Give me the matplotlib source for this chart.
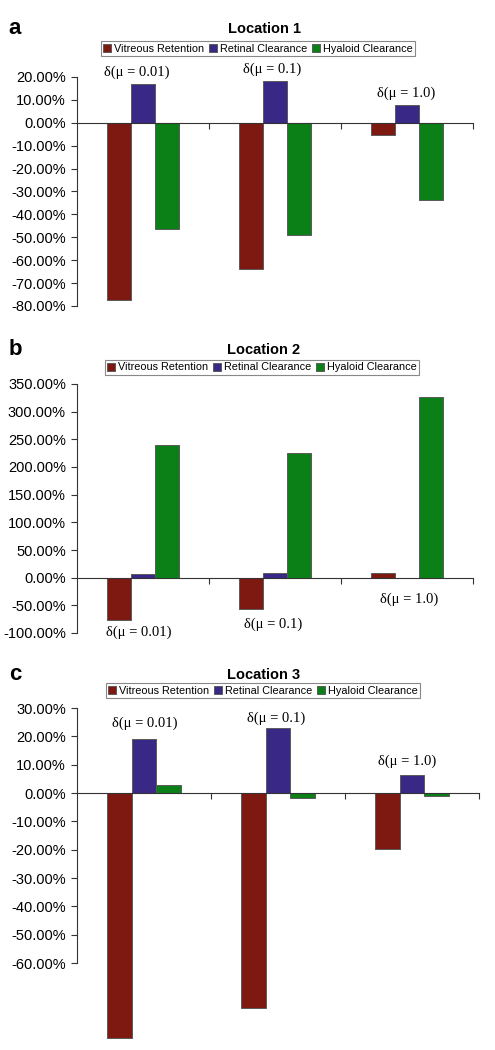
import matplotlib
matplotlib.use("Agg")
import matplotlib.pyplot as plt
import numpy as np
from matplotlib.ticker import FuncFormatter

series = ["Vitreous Retention", "Retinal Clearance", "Hyaloid Clearance"]
colors = ["#7E1912", "#3A2887", "#0B8016"]
groups = ["δ(μ = 0.01)", "δ(μ = 0.1)", "δ(μ = 1.0)"]

loc1 = {"Vitreous Retention": [-77.4, -63.9, -5.2],
        "Retinal Clearance": [17.0, 18.2, 7.7],
        "Hyaloid Clearance": [-46.4, -48.8, -33.5]}
loc2 = {"Vitreous Retention": [-77.4, -56.9, 8.4],
        "Retinal Clearance": [6.5, 9.0, 0.0],
        "Hyaloid Clearance": [239.7, 224.6, 326.6]}
loc3 = {"Vitreous Retention": [-86.6, -75.8, -19.7],
        "Retinal Clearance": [19.0, 23.0, 6.3],
        "Hyaloid Clearance": [2.8, -1.7, -1.2]}

W, H = 495, 1050
fig = plt.figure(figsize=(W / 100, H / 100), dpi=100)

SANS = "Liberation Sans"
SERIF = "Liberation Serif"

def px_axes(left, right, top, bottom):
    return fig.add_axes([left / W, 1 - bottom / H, (right - left) / W, (bottom - top) / H])

panels = [
    dict(data=loc1, box=(77, 473, 77, 306), ylim=(-80, 20), ticks=np.arange(-80, 21, 10),
         spine=(-80, 20), title="Location 1", letter="a", ty=29, leg=(258, 48.5),
         lab=[(137, 72), (272, 69), (406, 93)]),
    dict(data=loc2, box=(77, 473, 384, 633), ylim=(-100, 350), ticks=np.arange(-100, 351, 50),
         spine=(-100, 350), title="Location 2", letter="b", ty=350, leg=(262, 367.5),
         lab=[(139, 632), (273, 624), (409, 599)]),
    dict(data=loc3, box=(77, 479, 708, 1043), ylim=(-88.2, 30), ticks=np.arange(-60, 31, 10),
         spine=(-60, 30), title="Location 3", letter="c", ty=675, leg=(263, 690.5),
         lab=[(145, 723), (276, 718), (407, 761)]),
]

x = np.arange(len(groups))
bw = 0.183

for p in panels:
    ax = px_axes(*p["box"])
    for i, s in enumerate(series):
        ax.bar(x + (i - 1) * bw, p["data"][s], width=bw, color=colors[i],
               edgecolor="#5a5a5a", linewidth=0.7, label=s, zorder=2, clip_on=False)
    ax.set_xlim(-0.5, 2.5)
    ax.set_ylim(*p["ylim"])
    ax.set_yticks(p["ticks"])
    ax.yaxis.set_major_formatter(FuncFormatter(lambda v, pos: f"{v:.2f}%"))
    for t in ax.get_yticklabels():
        t.set_fontfamily(SANS)
        t.set_fontsize(10.5)
    ax.spines["top"].set_visible(False)
    ax.spines["right"].set_visible(False)
    ax.spines["left"].set_bounds(*p["spine"])
    ax.spines["bottom"].set_position(("data", 0))
    ax.spines["left"].set_color("#333333")
    ax.spines["bottom"].set_color("#333333")
    ax.spines["left"].set_zorder(3)
    ax.spines["bottom"].set_zorder(3)
    ax.set_xticks([0.5, 1.5, 2.5])
    ax.set_xticklabels([])
    ax.tick_params(axis="x", direction="out", length=4, color="#333333")
    ax.tick_params(axis="y", direction="out", length=4, color="#333333", pad=4)
    ax.patch.set_alpha(0)

    for g, (lx, ly) in zip(groups, p["lab"]):
        fig.text(lx / W, 1 - ly / H, g, ha="center", va="center",
                 fontfamily=SERIF, fontsize=10.5)

    fig.text(264 / W, 1 - p["ty"] / H, p["title"], ha="center", va="center",
             fontfamily=SANS, fontweight="bold", fontsize=10.5)
    fig.text(15 / W, 1 - (p["ty"] - 1) / H, p["letter"], ha="center", va="center",
             fontfamily=SANS, fontweight="bold", fontsize=16)

    lx, ly = p["leg"]
    leg = ax.legend(loc="center", bbox_to_anchor=(lx / W, 1 - ly / H),
                    bbox_transform=fig.transFigure, ncol=3, fancybox=False,
                    frameon=True, edgecolor="#888888", framealpha=1,
                    handlelength=0.75, handleheight=0.75, handletextpad=0.25,
                    columnspacing=0.45, borderpad=0.2, borderaxespad=0,
                    prop={"family": SANS, "size": 7.8})
    leg.get_frame().set_linewidth(0.8)

fig.savefig("out.png", dpi=100)
